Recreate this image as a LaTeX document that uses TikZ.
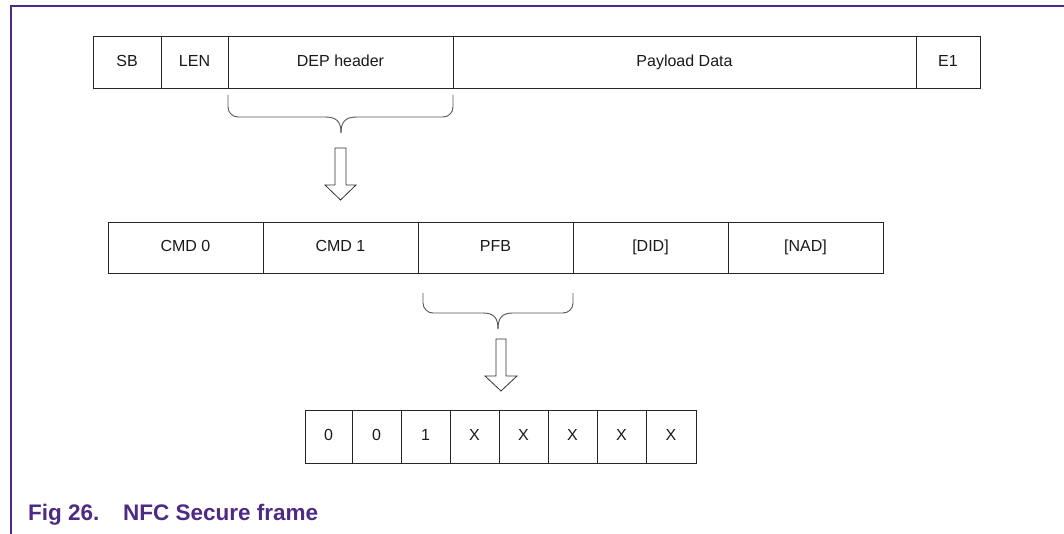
\documentclass[tikz,border=0pt]{standalone}
\usepackage{fontspec}
\setmainfont{Liberation Sans}
\usetikzlibrary{calc}
\definecolor{nxppurple}{HTML}{4E2A84}
\definecolor{bracegray}{HTML}{555555}
\tikzset{
  cell/.style={draw=black!85, line width=0.9pt, rectangle, inner sep=0pt, outer sep=0pt,
    anchor=north west, font=\fontsize{16}{18}\selectfont, text=black!90,
    text height=11.6pt, text depth=3.4pt},
  brace/.style={draw=bracegray, line width=0.9pt},
  blockarrow/.style={draw=black!80, line width=0.8pt, fill=white, line join=miter},
  frameline/.style={draw=nxppurple, line width=1.6pt},
}
\begin{document}
\begin{tikzpicture}[x=1pt, y=-1pt]
\useasboundingbox (0,0) rectangle (1064,534);

% page frame
\draw[frameline] (1064,6) -- (11,6) -- (11,534);

% frame layout
\node[cell, minimum width=68pt,  minimum height=52pt] (sb)  at (93,36)  {SB};
\node[cell, minimum width=67pt,  minimum height=52pt] (len) at (161,36) {LEN};
\node[cell, minimum width=225pt, minimum height=52pt] (dep) at (228,36) {DEP header};
\node[cell, minimum width=463pt, minimum height=52pt] (pay) at (453,36) {Payload Data};
\node[cell, minimum width=64pt,  minimum height=52pt] (e1)  at (916,36) {E1};

% DEP header fields
\node[cell, minimum width=155pt, minimum height=51pt] (cmd0) at (108,222) {CMD 0};
\node[cell, minimum width=155pt, minimum height=51pt] (cmd1) at (263,222) {CMD 1};
\node[cell, minimum width=155pt, minimum height=51pt] (pfb)  at (418,222) {PFB};
\node[cell, minimum width=155pt, minimum height=51pt] (did)  at (573,222) {[DID]};
\node[cell, minimum width=155pt, minimum height=51pt] (nad)  at (728,222) {[NAD]};

% PFB bits
\node[cell, minimum width=47pt, minimum height=53pt] (b0) at (305,410) {0};
\node[cell, minimum width=49pt, minimum height=53pt] (b1) at (352,410) {0};
\node[cell, minimum width=49pt, minimum height=53pt] (b2) at (401,410) {1};
\node[cell, minimum width=49pt, minimum height=53pt] (b3) at (450,410) {X};
\node[cell, minimum width=49pt, minimum height=53pt] (b4) at (499,410) {X};
\node[cell, minimum width=49pt, minimum height=53pt] (b5) at (548,410) {X};
\node[cell, minimum width=49pt, minimum height=53pt] (b6) at (597,410) {X};
\node[cell, minimum width=50pt, minimum height=53pt] (b7) at (646,410) {X};

% brace under DEP header (y grows downwards here)
\coordinate (br1l) at ($(dep.south west)+(0,7)$);
\coordinate (br1r) at ($(dep.south east)+(0,7)$);
\coordinate (br1tip) at (341,133);
\draw[brace] (br1l) -- ++(0,12) arc[start angle=180, end angle=270, radius=10pt]
  -- (325,117) .. controls (337,117) and (341,122) .. (br1tip);
\draw[brace] (br1r) -- ++(0,12) arc[start angle=0, end angle=-90, radius=10pt]
  -- (357,117) .. controls (345,117) and (341,122) .. (br1tip);

% brace under PFB
\coordinate (br2l) at (423,293);
\coordinate (br2r) at ($(pfb.south east)+(0,20)$);
\coordinate (br2tip) at (498,329);
\draw[brace] (br2l) -- ++(0,10) arc[start angle=180, end angle=270, radius=10pt]
  -- (483,313) .. controls (494,313) and (498,318) .. (br2tip);
\draw[brace] (br2r) -- ++(0,10) arc[start angle=0, end angle=-90, radius=10pt]
  -- (513,313) .. controls (502,313) and (498,318) .. (br2tip);

% block arrows
\coordinate (a1) at (340.5,148);
\draw[blockarrow] (a1) ++(-5.5,0) -- ++(0,37) -- ++(-10,0) -- (340.5,200) -- (356,185)
  -- ++(-10,0) -- ++(0,-37) -- cycle;
\coordinate (a2) at (501,339);
\draw[blockarrow] (a2) ++(-5,0) -- ++(0,37) -- ++(-11,0) -- (501,391) -- (517,376)
  -- ++(-11,0) -- ++(0,-37) -- cycle;

% caption
\node[anchor=base west, inner sep=0pt, text=nxppurple,
  font=\fontsize{22.5}{26}\selectfont\bfseries] (cap) at (28,520)
  {Fig 26.\hspace{1.05em}NFC Secure frame};
\end{tikzpicture}
\end{document}
